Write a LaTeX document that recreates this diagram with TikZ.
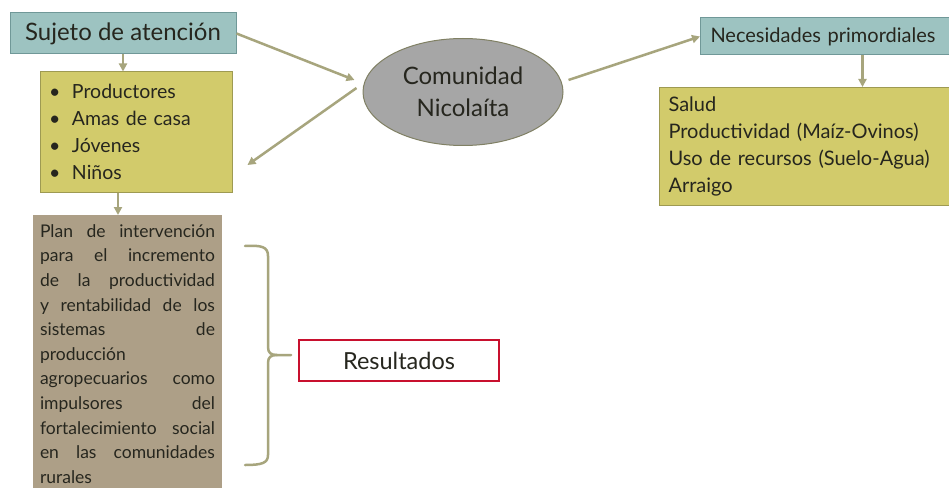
\documentclass[tikz,border=0pt]{standalone}
\usepackage{fontspec}
\setmainfont{Lato}
\usetikzlibrary{arrows.meta,shapes.geometric}

\definecolor{tealFill}{RGB}{157,195,193}
\definecolor{tealLine}{RGB}{112,152,152}
\definecolor{oliveFill}{RGB}{210,203,107}
\definecolor{oliveLine}{RGB}{158,154,82}
\definecolor{taupeFill}{RGB}{173,159,135}
\definecolor{grayFill}{RGB}{166,166,166}
\definecolor{grayLine}{RGB}{128,128,100}
\definecolor{arrowColor}{RGB}{167,165,125}
\definecolor{redLine}{RGB}{200,16,46}
\definecolor{textColor}{RGB}{38,38,30}

\tikzset{
  flecha/.style={draw=arrowColor,line width=2.5pt,-{Triangle[length=8pt,width=8pt]}},
  llave/.style={draw=arrowColor,line width=2.5pt,line cap=round,line join=round},
  cajaTeal/.style={draw=tealLine,line width=1pt,fill=tealFill,text=textColor},
  cajaOlive/.style={draw=oliveLine,line width=1pt,fill=oliveFill,text=textColor},
}
\newcommand{\linea}[1]{\makebox[175pt][s]{\spaceskip=\fontdimen2\font plus 1fil\relax #1}}

\begin{document}
\begin{tikzpicture}[x=1pt,y=-1pt]
\path[use as bounding box,fill=white] (0,0) rectangle (949,489);

% cajas de la izquierda
\node[cajaTeal,minimum width=226pt,minimum height=41pt,inner sep=0pt,
  font=\fontsize{24}{28}\selectfont] (suj) at (123,33.5) {Sujeto de atención};

\node[cajaOlive,minimum height=120pt,text width=174pt,inner xsep=9pt,inner ysep=0pt,align=left,
  font=\fontsize{19.5}{27}\selectfont] (lst) at (136,132)
  {\makebox[23pt][l]{\textbullet}Productores\\
   \makebox[23pt][l]{\textbullet}Amas de casa\\
   \makebox[23pt][l]{\textbullet}Jóvenes\\
   \makebox[23pt][l]{\textbullet}Niños};

\node[fill=taupeFill,text=textColor,anchor=north,text width=175pt,inner xsep=7pt,inner ysep=5pt,
  align=left,font=\fontsize{17.5}{24.6}\selectfont] (plan) at (127.5,215)
  {\rule{0pt}{17pt}\linea{Plan de intervención}\\
   \linea{para el incremento}\\
   \linea{de la productividad}\\
   \linea{y rentabilidad de los}\\
   \linea{sistemas de}\\
   producción\\
   \linea{agropecuarios como}\\
   \linea{impulsores del}\\
   \linea{fortalecimiento social}\\
   \linea{en las comunidades}\\
   rurales};

\node[draw=redLine,line width=1.5pt,fill=white,text=textColor,minimum width=200pt,minimum height=41pt,
  inner sep=0pt,font=\fontsize{23.5}{28}\selectfont] (res) at (399,360.5) {Resultados};

% centro
\node[ellipse,draw=grayLine,line width=1pt,fill=grayFill,text=textColor,minimum width=200pt,
  minimum height=107pt,inner sep=0pt,align=center,font=\fontsize{24}{32}\selectfont]
  (com) at (463,92) {Comunidad\\Nicolaíta};

% cajas de la derecha
\node[cajaTeal,anchor=west,minimum height=37pt,text width=240pt,inner xsep=10pt,inner ysep=0pt,
  align=left,font=\fontsize{20}{24}\selectfont] (nec) at (700,36.5) {Necesidades primordiales};

\node[cajaOlive,anchor=north west,minimum height=118pt,text width=280pt,inner xsep=9pt,inner ysep=0pt,
  align=left,font=\fontsize{20}{27}\selectfont] (nds) at (659,87)
  {Salud\\
   Productividad (Maíz-Ovinos)\\
   Uso de recursos (Suelo-Agua)\\
   Arraigo};

% flechas
\draw[flecha] (suj.south) -- (suj.south |- lst.north);
\draw[flecha] ([xshift=-18pt]lst.south) -- ([xshift=-18pt]lst.south |- plan.north);
\draw[flecha] (suj.east) -- ([xshift=-8pt,yshift=12pt]com.west);
\draw[flecha] ([xshift=-6pt,yshift=4pt]com.west) -- ([xshift=15pt,yshift=-33pt]lst.east);
\draw[flecha] ([xshift=5pt,yshift=12pt]com.east) -- (nec.west);
\draw[flecha] ([xshift=32pt]nec.south) -- ([xshift=32pt]nec.south |- nds.north);

% llave
\draw[llave] (245,246) .. controls (262,245) and (268,247) .. (268,256) -- (268,347)
  .. controls (268,353) and (271,355) .. (277,355) -- (291,355);
\draw[llave] (277,355) .. controls (271,355) and (268,357) .. (268,363) -- (268,455)
  .. controls (268,463) and (262,465) .. (245,465);
\end{tikzpicture}
\end{document}
